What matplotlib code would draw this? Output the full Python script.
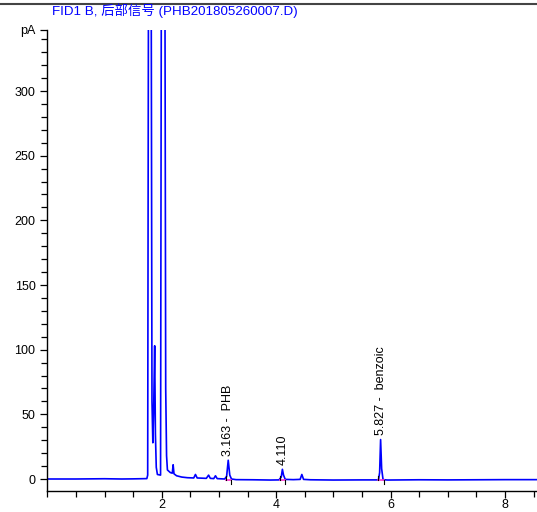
import matplotlib
matplotlib.use("Agg")
import matplotlib.pyplot as plt
from matplotlib.lines import Line2D
from matplotlib.ticker import MultipleLocator

# chromatogram trace (min, pA)
time = [0.0, 0.5, 1.0, 1.3, 1.5, 1.74, 1.755, 1.77, 1.815, 1.83, 1.845, 1.86,
        1.877, 1.89, 1.905, 1.925, 1.98, 1.995, 2.055, 2.07, 2.085, 2.10, 2.15,
        2.185, 2.20, 2.215, 2.26, 2.35, 2.45, 2.56, 2.59, 2.62, 2.78, 2.82, 2.85,
        2.91, 2.94, 2.97, 3.10, 3.135, 3.163, 3.19, 3.22, 3.30, 3.6, 3.9, 4.05,
        4.09, 4.11, 4.13, 4.16, 4.30, 4.42, 4.45, 4.48, 4.6, 5.0, 5.5, 5.79,
        5.81, 5.827, 5.845, 5.87, 5.95, 6.5, 7.0, 7.5, 8.0, 8.6]
signal = [0.0, 0.0, 0.2, 0.0, 0.1, 0.3, 3.0, 420, 420, 60, 28, 55,
          103, 35, 9, 3.5, 3.0, 420, 420, 70, 18, 7, 5,
          4.5, 11, 4, 2.5, 1.5, 1.0, 0.8, 3.5, 0.8, 0.5, 3.0, 0.5,
          0.3, 2.5, 0.3, 0.0, 2.0, 14.5, 3.0, 0.0, -0.5, -0.6, -0.8, -0.7,
          1.5, 7.5, 3.0, -0.3, -0.5, -0.3, 3.5, -0.3, -0.6, -0.8, -0.7, -0.7,
          5.0, 30.5, 8.0, -0.5, -0.8, -0.6, -0.7, -0.6, -0.5, -0.5]

# integrated peaks
peak_rt = [3.163, 4.110, 5.827]
peak_height = [14.5, 7.5, 30.5]
peak_names = ["3.163 -  PHB", "4.110", "5.827 -  benzoic"]
peak_start = [3.12, 4.07, 5.79]
peak_end = [3.22, 4.16, 5.88]

title = "FID1 B, 后部信号 (PHB201805260007.D)"
fonts = ["Liberation Sans", "Noto Sans CJK SC", "DejaVu Sans"]
plt.rcParams["font.family"] = fonts

fig = plt.figure(figsize=(5.37, 5.12), dpi=100)
ax = fig.add_axes([47.3 / 537, 1 - 491 / 512, 1 - 47.3 / 537, (491 - 30) / 512])

ax.plot(time, signal, color="#0000ff", lw=1.2)

# baseline marks of the integrator
for s, e in zip(peak_start, peak_end):
    ax.plot([s, e], [-0.6, -0.6], color="#ff33cc", lw=1.2)
    ax.plot([s, s], [-0.6, 2.5], color="black", lw=0.8)
    ax.plot([e, e], [-0.6, -4], color="black", lw=0.8)

for rt, h, name in zip(peak_rt, peak_height, peak_names):
    ax.annotate(name, (rt, h), xytext=(0, 3), textcoords="offset points",
                rotation=90, ha="center", va="bottom", fontsize=9)

ymax = (479 - 30) / 1.2933
ymin = -(491 - 479) / 1.2933
ax.set_ylim(ymin, ymax)
ax.set_xlim(0, (537 - 47.3) / 57.2)

ax.set_yticks([0, 50, 100, 150, 200, 250, 300, ymax])
ax.set_yticklabels(["0", "50", "100", "150", "200", "250", "300", "pA"])
ax.yaxis.set_minor_locator(MultipleLocator(10))
ax.set_xticks([2, 4, 6, 8])
ax.xaxis.set_minor_locator(MultipleLocator(0.5))
ax.tick_params(labelsize=9, length=5, width=0.9, direction="out")
ax.tick_params(which="minor", length=4, width=0.9)
ax.tick_params(axis="x", pad=1)

for side in ["top", "right"]:
    ax.spines[side].set_visible(False)
ax.spines["left"].set_linewidth(1.0)
ax.spines["bottom"].set_linewidth(1.0)

fig.text(52 / 537, 1 - 11 / 512, title, color="#0000ff", fontsize=9.6,
         ha="left", va="center")
fig.add_artist(Line2D([0, 1], [1 - 4 / 512, 1 - 4 / 512], color="#444444", lw=1.5))

fig.savefig("out.png", dpi=100)
